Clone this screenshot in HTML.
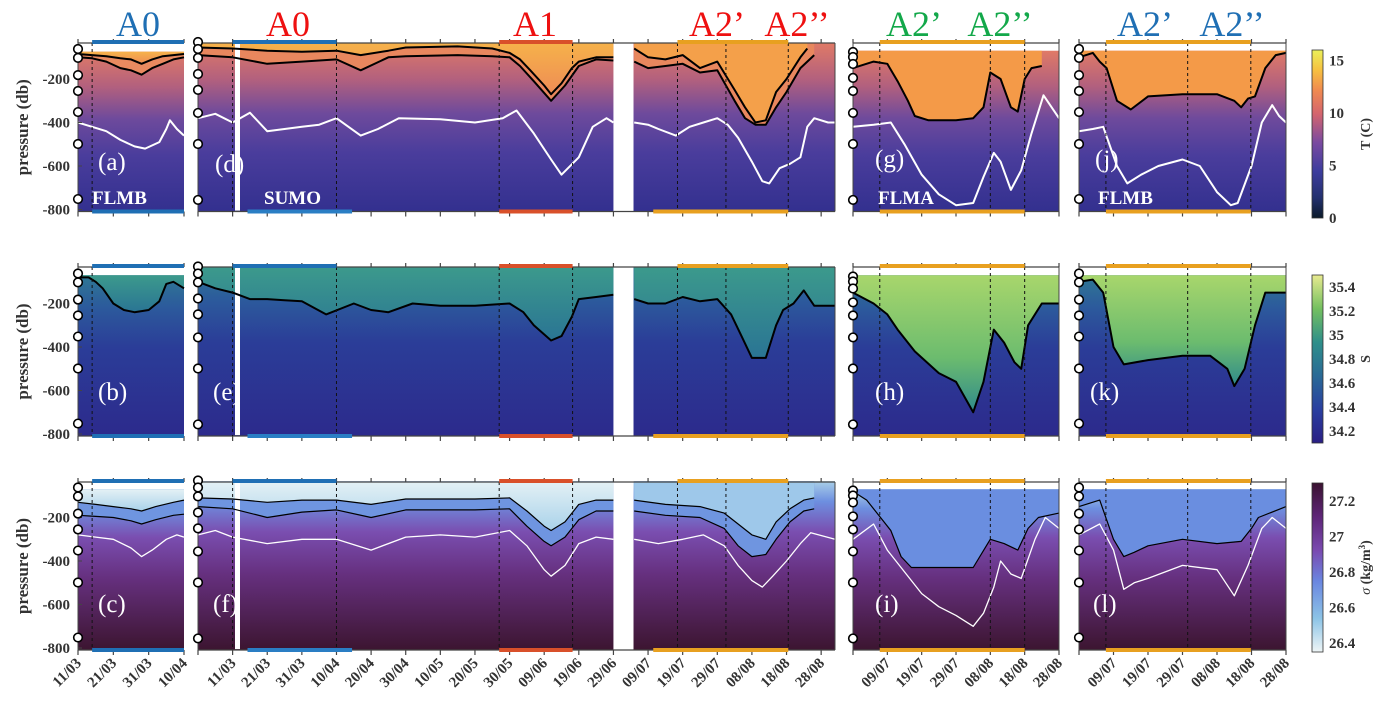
<!DOCTYPE html>
<html><head><meta charset="utf-8">
<style>
body{margin:0;background:#fff;}
svg, svg text{font-family:"Liberation Serif","DejaVu Serif",serif;}
</style></head>
<body>
<svg id="fig" width="1390" height="715" viewBox="0 0 1390 715" xmlns="http://www.w3.org/2000/svg" font-family="Liberation Serif, serif">
<defs>
<linearGradient id="bgT" x1="0" y1="0" x2="0" y2="1">
<stop offset="0" stop-color="#e07a66"/><stop offset="0.22" stop-color="#b2607e"/><stop offset="0.42" stop-color="#6e4a9c"/><stop offset="0.65" stop-color="#4a3d9c"/><stop offset="1" stop-color="#33308f"/></linearGradient>
<linearGradient id="bgS" x1="0" y1="0" x2="0" y2="1">
<stop offset="0" stop-color="#2f7894"/><stop offset="0.2" stop-color="#2c5a9c"/><stop offset="0.45" stop-color="#2b3d98"/><stop offset="1" stop-color="#2c2a8c"/></linearGradient>
<linearGradient id="bgR" x1="0" y1="0" x2="0" y2="1">
<stop offset="0" stop-color="#a9cfe8"/><stop offset="0.12" stop-color="#6d8fe0"/><stop offset="0.3" stop-color="#7a4eb0"/><stop offset="0.55" stop-color="#66307f"/><stop offset="1" stop-color="#3c1530"/></linearGradient>
<linearGradient id="cbT" x1="0" y1="1" x2="0" y2="0">
<stop offset="0" stop-color="#0b1a2a"/><stop offset="0.12" stop-color="#23306e"/><stop offset="0.28" stop-color="#3d3d9e"/><stop offset="0.45" stop-color="#7a4aa0"/><stop offset="0.62" stop-color="#d4656e"/><stop offset="0.76" stop-color="#f08a50"/><stop offset="0.88" stop-color="#f6c040"/><stop offset="1" stop-color="#eaf05a"/></linearGradient>
<linearGradient id="cbS" x1="0" y1="1" x2="0" y2="0">
<stop offset="0" stop-color="#2a1f84"/><stop offset="0.2" stop-color="#2a3fa0"/><stop offset="0.4" stop-color="#2a6a96"/><stop offset="0.6" stop-color="#2f8f8a"/><stop offset="0.8" stop-color="#74c060"/><stop offset="1" stop-color="#e8ea90"/></linearGradient>
<linearGradient id="cbR" x1="0" y1="1" x2="0" y2="0">
<stop offset="0" stop-color="#eef5f6"/><stop offset="0.2" stop-color="#8cc3e6"/><stop offset="0.42" stop-color="#6a86e0"/><stop offset="0.6" stop-color="#7a4ab0"/><stop offset="0.8" stop-color="#5e2578"/><stop offset="1" stop-color="#3a1230"/></linearGradient>
<linearGradient id="warm" x1="0" y1="0" x2="0" y2="1"><stop offset="0" stop-color="#f6b24a"/><stop offset="1" stop-color="#ee8c55"/></linearGradient>
<linearGradient id="salt" x1="0" y1="0" x2="0" y2="1"><stop offset="0" stop-color="#3c9a8c"/><stop offset="1" stop-color="#2a7494"/></linearGradient>
<linearGradient id="salt2" x1="0" y1="0" x2="0" y2="1"><stop offset="0" stop-color="#a8d66c"/><stop offset="0.6" stop-color="#6cbc6e"/><stop offset="1" stop-color="#2f8a8c"/></linearGradient>
<linearGradient id="light" x1="0" y1="0" x2="0" y2="1"><stop offset="0" stop-color="#e4f1f5"/><stop offset="1" stop-color="#a9d2ea"/></linearGradient>
</defs>
<g id="layer" font-family="Liberation Serif, serif"></g>
</svg>
<script>
// ---------- data ----------
const pressureTicks = [-200, -400, -600, -800];
const labelsA = ["11/03","21/03","31/03","10/04"];
const daysA = [10,20,30,40];
const labelsD = ["11/03","21/03","31/03","10/04","20/04","30/04","10/05","20/05","30/05","09/06","19/06","29/06","09/07","19/07","29/07","08/08","18/08","28/08"];
const daysD = [10,20,30,40,50,60,70,80,90,100,110,120,130,140,150,160,170,180];
const labelsG = ["09/07","19/07","29/07","08/08","18/08","28/08"];
const daysG = [130,140,150,160,170,180];
const tempTicks = [0,5,10,15];
const saltTicks = [34.2,34.4,34.6,34.8,35,35.2,35.4];
const sigTicks = [26.4,26.6,26.8,27,27.2];
const moorA = [62,103,182,255,352,499,752];
const moorD = [30,62,103,177,250,356,499,756];
const moorG = [76,99,131,195,255,356,499,756];
const moorJ = [62,103,182,255,352,499,752];
// T row lines: [day, depth]
const tA_b1 = [[10,85],[14,90],[18,95],[22,105],[25,110],[28,130],[31,110],[34,95],[37,90],[40,85]];
const tA_b2 = [[10,100],[14,105],[18,120],[22,150],[25,160],[28,180],[31,150],[34,130],[37,110],[40,100]];
const tA_w = [[10,400],[12,410],[14,420],[18,440],[22,480],[26,510],[29,520],[33,490],[35,430],[36,390],[38,430],[40,460]];
const tD1_b1 = [[0,55],[10,60],[20,70],[30,75],[40,70],[47,90],[55,70],[60,55],[75,50],[85,60],[90,80],[93,110],[96,160],[100,230],[102,270],[105,220],[108,150],[110,120],[115,100],[120,100]];
const tD1_b2 = [[0,90],[10,100],[20,130],[30,120],[40,110],[47,160],[55,100],[60,95],[75,90],[85,95],[90,100],[93,140],[97,210],[102,300],[106,230],[110,140],[115,110],[120,115]];
const tD1_w = [[0,380],[5,360],[10,400],[15,355],[20,440],[25,430],[30,420],[35,410],[40,380],[47,460],[52,430],[58,380],[70,385],[80,400],[88,380],[92,345],[97,450],[102,570],[105,640],[110,560],[114,420],[118,380],[120,400]];
const tD2_b1 = [[126,60],[130,100],[135,110],[140,90],[145,150],[150,120],[155,250],[158,330],[161,400],[164,390],[167,260],[170,200],[174,100],[176,60]];
const tD2_b2 = [[126,120],[130,150],[135,140],[140,130],[145,170],[150,160],[155,300],[158,380],[161,410],[164,410],[167,330],[170,260],[174,150],[178,90]];
const tD2_w = [[126,400],[130,410],[133,430],[138,460],[142,420],[146,400],[150,380],[153,410],[156,470],[160,580],[163,670],[165,680],[168,610],[171,590],[174,560],[176,420],[178,380],[182,400],[184,400]];
const tG_b = [[120,150],[126,120],[130,130],[133,210],[136,300],[138,370],[142,390],[150,390],[155,380],[158,330],[160,170],[163,200],[166,330],[168,350],[170,200],[172,150],[175,140]];
const tG_w = [[120,420],[126,410],[131,400],[135,500],[140,640],[145,730],[150,780],[155,770],[158,650],[161,540],[163,580],[166,710],[169,620],[172,450],[175.5,275],[180,380]];
const tJ_b = [[120,100],[124,80],[126,120],[128,150],[131,300],[135,340],[140,280],[150,270],[160,270],[165,300],[167,330],[169,290],[171,280],[174,150],[177,90],[180,80]];
const tJ_w = [[120,440],[124,430],[127,420],[131,600],[134,680],[138,640],[143,600],[150,570],[155,600],[160,720],[164,780],[166,770],[170,600],[173,400],[176,320],[178,370],[180,400]];
// S row
const sA_b = [[10,80],[13,80],[15,100],[17,130],[20,200],[23,230],[26,240],[30,230],[33,190],[35,110],[37,100],[40,130]];
const sD1_b = [[0,100],[5,130],[10,150],[15,180],[20,180],[25,185],[30,190],[37,250],[45,200],[50,230],[55,240],[62,200],[70,210],[80,210],[90,200],[94,240],[97,300],[102,370],[105,350],[108,260],[110,180],[115,170],[120,160]];
const sD2_b = [[126,180],[130,200],[135,200],[140,170],[145,190],[150,180],[154,250],[157,350],[160,450],[164,450],[167,300],[169,230],[172,200],[175,140],[178,210],[184,210]];
const sG_b = [[120,150],[126,200],[130,250],[133,320],[138,420],[145,520],[150,560],[155,700],[158,560],[161,320],[164,380],[167,470],[169,500],[171,300],[175,200],[180,200]];
const sJ_b = [[120,100],[124,90],[127,150],[130,400],[133,480],[140,460],[150,440],[158,440],[163,500],[165,580],[168,500],[171,300],[174,150],[180,150]];
// sigma row
const rA_b1 = [[10,130],[15,140],[20,150],[25,160],[28,170],[32,150],[37,130],[40,120]];
const rA_b2 = [[10,190],[15,195],[20,200],[25,215],[28,230],[32,210],[37,190],[40,185]];
const rA_w = [[10,280],[15,290],[20,300],[25,340],[28,380],[31,350],[35,300],[38,280],[40,290]];
const rD1_b1 = [[0,110],[10,115],[20,130],[30,120],[40,120],[50,140],[60,115],[80,115],[90,110],[95,170],[100,240],[102,260],[106,220],[110,140],[115,120],[120,120]];
const rD1_b2 = [[0,150],[10,160],[20,200],[30,175],[40,165],[50,200],[60,165],[80,165],[90,160],[95,240],[100,310],[102,330],[106,290],[110,210],[115,170],[120,170]];
const rD1_w = [[0,280],[5,260],[10,290],[20,320],[30,300],[40,300],[50,350],[60,290],[70,280],[80,290],[90,260],[95,330],[100,440],[102,470],[106,420],[110,320],[115,290],[120,300]];
const rD2_b1 = [[126,120],[135,140],[145,150],[152,180],[156,230],[160,280],[164,300],[167,220],[171,160],[175,120],[178,110]];
const rD2_b2 = [[126,170],[135,190],[145,200],[152,250],[156,330],[160,380],[164,370],[167,300],[171,220],[175,170],[178,160]];
const rD2_w = [[126,300],[133,320],[140,300],[146,280],[152,330],[156,420],[160,490],[163,520],[166,470],[170,400],[174,320],[177,270],[184,300]];
const rG_b = [[120,80],[124,120],[128,200],[131,260],[134,380],[137,430],[145,430],[155,430],[160,300],[164,320],[168,350],[171,250],[174,200],[180,180]];
const rG_w = [[120,300],[126,230],[130,350],[135,450],[140,550],[145,610],[150,650],[155,700],[158,640],[161,520],[163,400],[166,460],[169,480],[173,300],[176,200],[180,250]];
const rJ_b = [[120,150],[126,120],[130,300],[133,380],[136,360],[140,330],[150,300],[160,320],[167,310],[170,250],[172,200],[180,150]];
const rJ_w = [[120,280],[126,230],[130,350],[133,530],[136,500],[140,480],[150,420],[160,440],[165,560],[169,420],[173,250],[176,200],[180,250]];

// ---------- layout ----------
const NS = "http://www.w3.org/2000/svg";
const L = document.getElementById('layer');
const FONT = '"Liberation Serif", "DejaVu Serif", serif';
const panels = {
  a:{x0:78,x1:184,d0:10,d1:40},
  d:{x0:198,x1:835,d0:0,d1:184},
  g:{x0:853,x1:1059,d0:120,d1:180},
  j:{x0:1079,x1:1286,d0:120,d1:180}
};
const rows = [{y0:35.5,bg:'url(#bgT)'},{y0:260,bg:'url(#bgS)'},{y0:474,bg:'url(#bgR)'}];
const K = 0.2175;
function xs(p,d){return p.x0+(d-p.d0)*(p.x1-p.x0)/(p.d1-p.d0);}
function ys(r,z){return rows[r].y0+z*K;}
function mk(tag,attrs,parent){const e=document.createElementNS(NS,tag);for(const k in attrs)e.setAttribute(k,attrs[k]);if(tag==='text')e.style.fontFamily=FONT;(parent||L).appendChild(e);return e;}

function linePath(p,r,arr){return arr.map((v,i)=>(i?'L':'M')+xs(p,v[0]).toFixed(1)+','+ys(r,v[1]).toFixed(1)).join('');}
function fillAbove(p,r,arr,topZ,fill,name){
  let d=linePath(p,r,arr);
  d+='L'+xs(p,arr[arr.length-1][0]).toFixed(1)+','+ys(r,topZ).toFixed(1)+'L'+xs(p,arr[0][0]).toFixed(1)+','+ys(r,topZ).toFixed(1)+'Z';
  const e=mk('path',{d:d,fill:fill});
  
  
}
function stroke(p,r,arr,col,w,name){
  const e=mk('path',{d:linePath(p,r,arr),fill:'none',stroke:col,'stroke-width':w,'stroke-linejoin':'round'});
  
  
}
function bg(p,r,d0,d1,topZ,name){
  const e=mk('rect',{x:xs(p,d0),y:ys(r,topZ),width:xs(p,d1)-xs(p,d0),height:ys(r,800)+2-ys(r,topZ),fill:rows[r].bg});
  
  
}

const P=panels;
// Row 0 Temperature
bg(P.a,0,10,40,75,'panel-a-field');
fillAbove(P.a,0,tA_b2,75,'#e98a60','panel-a-warm-layer');
fillAbove(P.a,0,tA_b1,75,'url(#warm)','panel-a-warm-core');
bg(P.d,0,0,120,33,'panel-d-field');
bg(P.d,0,125.8,184,33,'panel-d-field-2');
fillAbove(P.d,0,tD1_b2,33,'#e8875e','panel-d-warm-layer');
fillAbove(P.d,0,tD1_b1,33,'url(#warm)','panel-d-warm-core');
fillAbove(P.d,0,tD2_b2,33,'#e8875e','panel-d-warm-layer-2');
fillAbove(P.d,0,tD2_b1,33,'#f4a04a','panel-d-warm-core-2');
bg(P.g,0,120,180,70,'panel-g-field');
fillAbove(P.g,0,tG_b,70,'#f49a48','panel-g-warm-core');
bg(P.j,0,120,180,70,'panel-j-field');
fillAbove(P.j,0,tJ_b,70,'#f49a48','panel-j-warm-core');
// Row 1 Salinity
bg(P.a,1,10,40,70,'panel-b-field');
fillAbove(P.a,1,sA_b,70,'url(#salt)','panel-b-salty-layer');
bg(P.d,1,0,120,30,'panel-e-field');
bg(P.d,1,125.8,184,30,'panel-e-field-2');
fillAbove(P.d,1,sD1_b,30,'url(#salt)','panel-e-salty-layer');
fillAbove(P.d,1,sD2_b,30,'url(#salt)','panel-e-salty-layer-2');
bg(P.g,1,120,180,70,'panel-h-field');
fillAbove(P.g,1,sG_b,70,'url(#salt2)','panel-h-salty-layer');
bg(P.j,1,120,180,70,'panel-k-field');
fillAbove(P.j,1,sJ_b,70,'url(#salt2)','panel-k-salty-layer');
// Row 2 Density
bg(P.a,2,10,40,70,'panel-c-field');
fillAbove(P.a,2,rA_b2,70,'#6f95e0','panel-c-light-layer');
fillAbove(P.a,2,rA_b1,70,'url(#light)','panel-c-lightest-layer');
bg(P.d,2,0,120,33,'panel-f-field');
bg(P.d,2,125.8,184,33,'panel-f-field-2');
fillAbove(P.d,2,rD1_b2,33,'#6f95e0','panel-f-light-layer');
fillAbove(P.d,2,rD1_b1,33,'url(#light)','panel-f-lightest-layer');
fillAbove(P.d,2,rD2_b2,33,'#6f95e0','panel-f-light-layer-2');
fillAbove(P.d,2,rD2_b1,33,'#9ec8ea','panel-f-lightest-layer-2');
bg(P.g,2,120,180,70,'panel-i-field');
fillAbove(P.g,2,rG_b,70,'#6a8ee0','panel-i-light-layer');
bg(P.j,2,120,180,70,'panel-l-field');
fillAbove(P.j,2,rJ_b,70,'#6a8ee0','panel-l-light-layer');

// white no-data strip in panel d
for(let r=0;r<3;r++){
  const e=mk('rect',{x:235,y:ys(r,30),width:5,height:ys(r,805)-ys(r,30),fill:'#fff'});
  
  
}
// isolines
const blacks=[[P.a,0,tA_b1],[P.a,0,tA_b2],[P.d,0,tD1_b1],[P.d,0,tD1_b2],[P.d,0,tD2_b1],[P.d,0,tD2_b2],[P.g,0,tG_b],[P.j,0,tJ_b],
[P.a,1,sA_b],[P.d,1,sD1_b],[P.d,1,sD2_b],[P.g,1,sG_b],[P.j,1,sJ_b],
[P.a,2,rA_b1],[P.a,2,rA_b2],[P.d,2,rD1_b1],[P.d,2,rD1_b2],[P.d,2,rD2_b1],[P.d,2,rD2_b2],[P.g,2,rG_b],[P.j,2,rJ_b]];
blacks.forEach(b=>stroke(b[0],b[1],b[2],'#000',b[1]==2?1.2:2,'black-isoline'));
const whites=[[P.a,0,tA_w],[P.d,0,tD1_w],[P.d,0,tD2_w],[P.g,0,tG_w],[P.j,0,tJ_w],[P.a,2,rA_w],[P.d,2,rD1_w],[P.d,2,rD2_w],[P.g,2,rG_w],[P.j,2,rJ_w]];
whites.forEach(w=>stroke(w[0],w[1],w[2],'#fff',w[1]==0?2:1.3,'white-isoline'));

// frames, ticks, dashed lines, bars
const tickDays={a:[10,20,30,40],d:[0,10,20,30,40,50,60,70,80,90,100,110,120,130,140,150,160,170,180],g:[120,130,140,150,160,170,180],j:[120,130,140,150,160,170,180]};
const dashes={a:[14],d:[10,40,87,108.2,138.5,152.5,170.5],g:[127.8,160,170],j:[127.8,151.5,169.8]};
const bars=[
 {p:'a',d0:14,d1:40,c:'#1f6fb4',where:'both'},
 {p:'d',d0:10,d1:40,c:'#1f6fb4',where:'top'},
 {p:'d',d0:14.3,d1:44.5,c:'#2a7ec4',where:'bot'},
 {p:'d',d0:87,d1:108.2,c:'#d9502a',where:'both'},
 {p:'d',d0:138.5,d1:170.5,c:'#e8a020',where:'top'},
 {p:'d',d0:131.5,d1:170.5,c:'#e8a020',where:'bot'},
 {p:'g',d0:127.8,d1:170,c:'#e8a020',where:'both'},
 {p:'j',d0:127.8,d1:169.8,c:'#e8a020',where:'both'}];
const frameTop=[43,267,482];
for(let r=0;r<3;r++){
  const yt=frameTop[r], yb=ys(r,800)+2;
  for(const k in panels){
    const p=panels[k];
    mk('line',{x1:p.x0,y1:yt,x2:p.x1,y2:yt,stroke:'#444','stroke-width':1.3});
    mk('line',{x1:p.x0,y1:yb,x2:p.x1,y2:yb,stroke:'#444','stroke-width':1.3});
    mk('line',{x1:p.x0,y1:yt,x2:p.x0,y2:yb,stroke:'#444','stroke-width':1});
    if(k!=='a') mk('line',{x1:p.x1,y1:yt,x2:p.x1,y2:yb,stroke:'#444','stroke-width':1});
    tickDays[k].forEach(d=>{
      const x=xs(p,d);
      mk('line',{x1:x,y1:yt,x2:x,y2:yt-4,stroke:'#444','stroke-width':1.2});
      mk('line',{x1:x,y1:yb,x2:x,y2:yb+5,stroke:'#444','stroke-width':1.2});
    });
    dashes[k].forEach(d=>{
      const x=xs(p,d);
      const e=mk('line',{x1:x,y1:yt,x2:x,y2:yb,stroke:'#111','stroke-width':1,'stroke-dasharray':'3,3'});
      
      
    });
  }
  bars.forEach(b=>{
    const p=panels[b.p];
    const x0=xs(p,b.d0),x1=xs(p,b.d1);
    if(b.where!=='bot'){const e=mk('rect',{x:x0,y:yt-3,width:x1-x0,height:4,fill:b.c});}
    if(b.where!=='top'){const e=mk('rect',{x:x0,y:yb-2,width:x1-x0,height:4,fill:b.c});}
  });
  // y tick labels
  pressureTicks.forEach(t=>{
    const e=mk('text',{x:70,y:ys(r,-t)+5,'text-anchor':'end','font-size':15,'font-weight':'bold',fill:'#333'});
    e.textContent=t;
    
    
    mk('line',{x1:78,y1:ys(r,-t),x2:82,y2:ys(r,-t),stroke:'#444'});
  });
  const yc=(yt+yb)/2;
  const yl=mk('text',{x:0,y:0,transform:'translate(28,'+yc+') rotate(-90)','text-anchor':'middle','font-size':17,'font-weight':'bold',fill:'#333'});
  yl.textContent='pressure (db)';
  
  
  // mooring circles
  [[P.a,moorA],[P.d,moorD],[P.g,moorG],[P.j,moorJ]].forEach(m=>{
    m[1].forEach(z=>{
      const c=mk('circle',{cx:m[0].x0,cy:ys(r,z),r:4.3,fill:'#fff',stroke:'#000','stroke-width':1.6});
      
      
    });
  });
}
// x labels
function xlab(p,days,labels){
  days.forEach((d,i)=>{
    const x=xs(p,d)+4;
    const e=mk('text',{x:0,y:0,transform:'translate('+x+',664) rotate(-45)','text-anchor':'end','font-size':15,'font-weight':'bold',fill:'#333'});
    e.textContent=labels[i];
    
    
  });
}
xlab(P.a,daysA,labelsA); xlab(P.d,daysD,labelsD); xlab(P.g,daysG,labelsG); xlab(P.j,daysG,labelsG);
// titles
const titles=[['A0',138,'#1f6fb4'],['A0',288,'#ee1010'],['A1',535,'#ee1010'],['A2’',717,'#ee1010'],['A2’’',797,'#ee1010'],['A2’',914,'#13a84a'],['A2’’',1000,'#13a84a'],['A2’',1145,'#1f6fb4'],['A2’’',1232,'#1f6fb4']];
titles.forEach(t=>{const e=mk('text',{x:t[1],y:36,'text-anchor':'middle','font-size':36,fill:t[2]});e.textContent=t[0];});
// panel letters
const letters=[['(a)',98,170],['(d)',215,172],['(g)',875,167],['(j)',1095,167],['(b)',98,400],['(e)',213,400],['(h)',875,400],['(k)',1090,400],['(c)',98,612],['(f)',213,612],['(i)',875,612],['(l)',1093,612]];
letters.forEach(t=>{const e=mk('text',{x:t[1],y:t[2],'font-size':25,fill:'#fff'});e.textContent=t[0];});
const sites=[['FLMB',92,204],['SUMO',264,204],['FLMA',878,204],['FLMB',1098,204]];
sites.forEach(t=>{const e=mk('text',{x:t[1],y:t[2],'font-size':19,'font-weight':'bold',fill:'#fff'});e.textContent=t[0];});
// colorbars
function cbar(y0,y1,fill,vmin,vmax,ticks,title,name){
  const e=mk('rect',{x:1312,y:y0,width:11,height:y1-y0,fill:fill,stroke:'#333','stroke-width':0.8});
  
  
  ticks.forEach(t=>{
    const y=y1-(t-vmin)/(vmax-vmin)*(y1-y0);
    const tx=mk('text',{x:1329,y:y+5,'font-size':15,'font-weight':'bold',fill:'#333'});
    tx.textContent=t;
    
    
  });
  const tt=mk('text',{x:0,y:0,transform:'translate(1370,'+((y0+y1)/2)+') rotate(-90)','text-anchor':'middle','font-size':14,'font-weight':'bold',fill:'#333'});
  tt.innerHTML=title;
  
  
}
cbar(50,218,'url(#cbT)',0,16,tempTicks,'T (C)','temperature-colorbar');
cbar(275,443,'url(#cbS)',34.1,35.5,saltTicks,'S','salinity-colorbar');
cbar(483,652,'url(#cbR)',26.35,27.3,sigTicks,'<tspan font-style="italic" font-weight="normal">σ</tspan> (kg/m<tspan baseline-shift="super" font-size="9">3</tspan>)','density-colorbar');
</script>
</body></html>
